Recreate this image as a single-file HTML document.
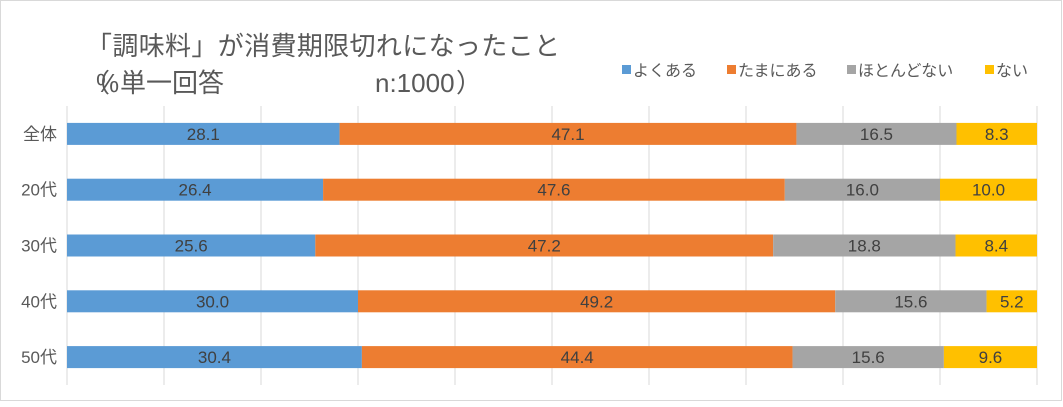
<!DOCTYPE html>
<html><head><meta charset="utf-8"><style>
body{margin:0;background:#fff}
svg text{font-family:"Liberation Sans","Noto Sans CJK JP",sans-serif}
</style></head><body>
<svg id="chart" width="1063" height="402" viewBox="0 0 1063 402">
<rect x="0.5" y="0.5" width="1061" height="400" fill="#fff" stroke="#d9d9d9"/>
<text x="86" y="55" font-size="26" fill="#595959" textLength="474">「調味料」が消費期限切れになったこと</text>
<g font-size="26" fill="#595959">
<text x="84" y="92">（</text>
<text x="96" y="92">%</text>
<text x="120" y="92">単一回答</text>
<text x="375" y="92">n:1000</text>
<text x="456" y="92">）</text>
</g>
<g id="legend"></g>
<g id="grid"></g>
<g id="bars"></g>
<g id="cats"></g>
</svg>
<script>
const categories=["全体","20代","30代","40代","50代"];
const seriesNames=["よくある","たまにある","ほとんどない","ない"];
const often=[28.1,26.4,25.6,30.0,30.4];
const sometimes=[47.1,47.6,47.2,49.2,44.4];
const rarely=[16.5,16.0,18.8,15.6,15.6];
const never=[8.3,10.0,8.4,5.2,9.6];
const series=[often,sometimes,rarely,never];
const colors=["#5b9bd5","#ed7d31","#a5a5a5","#ffc000"];
const NS="http://www.w3.org/2000/svg";
const x0=67,x1=1037,yTop=106,yBot=385;
const xs=v=>x0+(x1-x0)*v/100;
const band=(yBot-yTop)/categories.length;
const yc=i=>yTop+band*(i+0.5);
function mk(t,a,p){const e=document.createElementNS(NS,t);for(const k in a)e.setAttribute(k,a[k]);p.appendChild(e);return e;}
const grid=document.getElementById('grid');
for(let v=0;v<=100;v+=10){
 const l=mk('line',{x1:xs(v),x2:xs(v),y1:yTop,y2:yBot,stroke:'#d9d9d9','stroke-width':1},grid);
 
 
}
const bars=document.getElementById('bars'),cats=document.getElementById('cats');
categories.forEach((c,i)=>{
 let acc=0;
 series.forEach((s,j)=>{
  const v=s[i];
  const r=mk('rect',{x:xs(acc),y:yc(i)-11,width:xs(acc+v)-xs(acc),height:22,fill:colors[j]},bars);
  
  
  const t=mk('text',{x:(xs(acc)+xs(acc+v))/2,y:yc(i)+6,'text-anchor':'middle','font-size':17,fill:'#404040'},bars);
  t.textContent=v.toFixed(1);
  
  
  acc+=v;
 });
 const ct=mk('text',{x:57,y:yc(i)+6,'text-anchor':'end','font-size':17,fill:'#595959'},cats);
 ct.textContent=c;
 
 
});
const lg=document.getElementById('legend');
const lx=[622,727,847,985];
seriesNames.forEach((n,j)=>{
 const r=mk('rect',{x:lx[j],y:65,width:9,height:9,fill:colors[j]},lg);
 
 
 const t=mk('text',{x:lx[j]+11,y:76,'font-size':16,fill:'#595959'},lg);
 t.textContent=n;
 
 
});
</script>
</body></html>
